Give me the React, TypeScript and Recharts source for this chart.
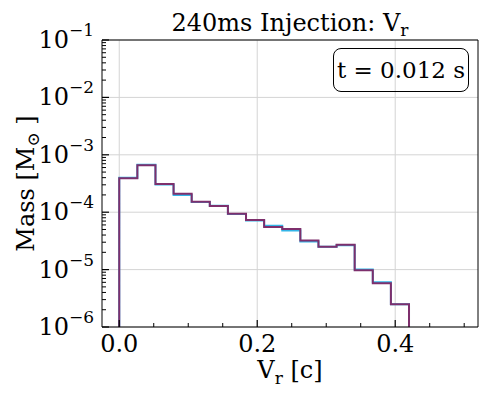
import React from 'react';
import { LineChart, Line, XAxis, YAxis, ReferenceLine } from 'recharts';

const FONT = '"DejaVu Serif", serif';

// histogram bin edges of V_r [c]
const binEdges = [
  0, 0.02625, 0.0525, 0.07875, 0.105, 0.13125, 0.1575, 0.18375, 0.21,
  0.23625, 0.2625, 0.28875, 0.315, 0.34125, 0.3675, 0.39375, 0.42,
];
// mass per bin [Msun], two overlapping runs
const massBlue = [
  4.0e-4, 6.7e-4, 3.05e-4, 2.0e-4, 1.5e-4, 1.3e-4, 9.3e-5, 7.2e-5,
  5.8e-5, 4.8e-5, 3.1e-5, 2.5e-5, 2.65e-5, 1.0e-5, 6.0e-6, 2.5e-6,
];
const massPurple = [
  3.9e-4, 6.6e-4, 3.1e-4, 2.1e-4, 1.52e-4, 1.28e-4, 9.4e-5, 7.3e-5,
  5.5e-5, 5.1e-5, 3.2e-5, 2.5e-5, 2.7e-5, 9.7e-6, 5.8e-6, 2.5e-6,
];

const X_DOMAIN = [-0.025, 0.52];
const Y_DOMAIN = [1e-6, 1e-1];
const xMajor = [0, 0.2, 0.4];
const xMinor = [0.05, 0.1, 0.15, 0.25, 0.3, 0.35, 0.45, 0.5];
const yMajor = [1e-6, 1e-5, 1e-4, 1e-3, 1e-2, 1e-1];
const yMinor = yMajor.slice(0, -1).flatMap((d) => [2, 3, 4, 5, 6, 7, 8, 9].map((m) => m * d));

// step outline: rise from the axis floor, one row per bin, drop back down
const last = binEdges.length - 1;
const rows = [
  { v: binEdges[0], blue: Y_DOMAIN[0], purple: Y_DOMAIN[0] },
  ...massBlue.map((b, i) => ({ v: binEdges[i], blue: b, purple: massPurple[i] })),
  { v: binEdges[last], blue: massBlue[last - 1], purple: massPurple[last - 1] },
  { v: binEdges[last], blue: Y_DOMAIN[0], purple: Y_DOMAIN[0] },
];

// chart box
const CHART_W = 498;
const CHART_H = 399;
const M = { top: 40, right: 20, bottom: 0, left: 0 };
const Y_AXIS_W = 102;
const X_AXIS_H = 72;
const PLOT_L = M.left + Y_AXIS_W;
const PLOT_W = CHART_W - M.left - M.right - Y_AXIS_W;
const PLOT_H = CHART_H - M.top - M.bottom - X_AXIS_H;
const PLOT_B = M.top + PLOT_H;
// same mapping as the axes, only used for the inward tick marks overlay
const px = (v: number) => PLOT_L + ((v - X_DOMAIN[0]) / (X_DOMAIN[1] - X_DOMAIN[0])) * PLOT_W;
const py = (v: number) => PLOT_B - (Math.log10(v / Y_DOMAIN[0]) / Math.log10(Y_DOMAIN[1] / Y_DOMAIN[0])) * PLOT_H;

function YTick({ x, y, payload }: any) {
  const exp = Math.round(Math.log10(payload.value));
  return (
    <text x={x} y={y} textAnchor="end" fontFamily={FONT} fontSize={24} fill="#000">
      <tspan dy={8}>10</tspan>
      <tspan dy={-12} fontSize={17}>{`\u2212${-exp}`}</tspan>
    </text>
  );
}

const xLabel = ({ viewBox }: any) => (
  <text x={viewBox.x + viewBox.width / 2} y={viewBox.y + 51} textAnchor="middle" fontFamily={FONT} fontSize={24} fill="#000">
    V<tspan fontSize={17} dy={6}>r</tspan>
    <tspan dy={-6}> [c]</tspan>
  </text>
);

const yLabel = ({ viewBox }: any) => {
  const cx = viewBox.x + 26;
  const cy = viewBox.y + viewBox.height / 2;
  return (
    <text x={cx} y={cy} dy={8} textAnchor="middle" transform={`rotate(-90 ${cx} ${cy})`} fontFamily={FONT} fontSize={24} fill="#000">
      Mass [M<tspan fontSize={17} dy={5}>{'\u2299'}</tspan>
      <tspan dy={-5}> ]</tspan>
    </text>
  );
};

const NoLabel = () => <g />;
const GRID = '#d4d4d4';

function TickMarks() {
  return (
    <svg width={CHART_W} height={CHART_H} style={{ position: 'absolute', left: 0, top: 0, pointerEvents: 'none' }}>
      {yMajor.map((v) => (
        <line key={`ya${v}`} x1={PLOT_L} x2={PLOT_L + 7} y1={py(v)} y2={py(v)} stroke="#000" strokeWidth={1.2} />
      ))}
      {yMinor.map((v) => (
        <line key={`yi${v}`} x1={PLOT_L} x2={PLOT_L + 4} y1={py(v)} y2={py(v)} stroke="#000" strokeWidth={1} />
      ))}
      {xMajor.map((v) => (
        <line key={`xa${v}`} x1={px(v)} x2={px(v)} y1={PLOT_B} y2={PLOT_B - 7} stroke="#000" strokeWidth={1.2} />
      ))}
      {xMinor.map((v) => (
        <line key={`xi${v}`} x1={px(v)} x2={px(v)} y1={PLOT_B} y2={PLOT_B - 4} stroke="#000" strokeWidth={1} />
      ))}
    </svg>
  );
}

export default function App() {
  return (
    <div style={{ position: 'absolute', left: 0, top: 0, width: CHART_W, height: CHART_H, background: '#fff' }}>
      <LineChart width={CHART_W} height={CHART_H} data={rows} margin={M}>
        {xMajor.map((v) => (
          <ReferenceLine key={`gx${v}`} x={v} stroke={GRID} strokeWidth={1} />
        ))}
        {yMajor.map((v) => (
          <ReferenceLine key={`gy${v}`} y={v} stroke={GRID} strokeWidth={1} />
        ))}
        {/* frame top / right */}
        <XAxis xAxisId="top" orientation="top" type="number" domain={X_DOMAIN} allowDataOverflow ticks={xMajor} mirror height={1} tick={NoLabel} tickLine={false} axisLine={{ stroke: '#000' }} />
        <YAxis yAxisId="right" orientation="right" type="number" scale="log" domain={Y_DOMAIN} allowDataOverflow ticks={yMajor} mirror width={1} tick={NoLabel} tickLine={false} axisLine={{ stroke: '#000' }} />
        <XAxis dataKey="v" type="number" domain={X_DOMAIN} allowDataOverflow ticks={xMajor} interval={0} height={X_AXIS_H} tickLine={false} axisLine={{ stroke: '#000' }} tickFormatter={(v: number) => v.toFixed(1)} tick={{ fill: '#000', fontSize: 24, fontFamily: FONT }} label={xLabel} />
        <YAxis type="number" scale="log" domain={Y_DOMAIN} allowDataOverflow ticks={yMajor} interval={0} width={Y_AXIS_W} tickLine={false} axisLine={{ stroke: '#000' }} tick={<YTick />} label={yLabel} />
        <Line dataKey="blue" type="stepAfter" stroke="#33b5e8" strokeWidth={2} dot={false} isAnimationActive={false} />
        <Line dataKey="purple" type="stepAfter" stroke="#7e2f6c" strokeWidth={2} dot={false} isAnimationActive={false} />
      </LineChart>
      <TickMarks />
      <div style={{ position: 'absolute', left: PLOT_L, top: 0, width: PLOT_W, height: M.top, fontFamily: FONT, fontSize: 24, color: '#000', textAlign: 'center' }}>
        <span style={{ position: 'absolute', left: 0, right: 0, bottom: 3 }}>
          240ms Injection: V<sub style={{ fontSize: 17, verticalAlign: -5, lineHeight: 0 }}>r</sub>
        </span>
      </div>
      <div style={{ position: 'absolute', left: 333, top: 48, width: 134, height: 42, border: '1.2px solid #000', borderRadius: 8, fontFamily: FONT, fontSize: 23, lineHeight: '42px', textAlign: 'center', color: '#000' }}>
        t = 0.012 s
      </div>
    </div>
  );
}
